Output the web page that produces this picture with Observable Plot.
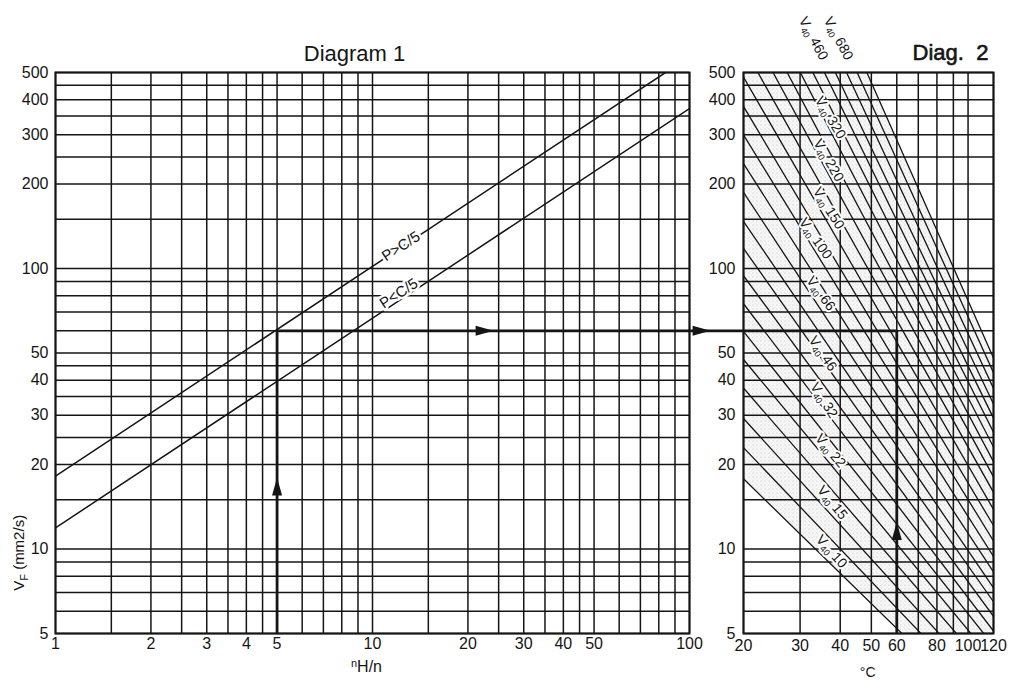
<!DOCTYPE html>
<html><head><meta charset="utf-8">
<script src="https://cdn.jsdelivr.net/npm/d3@7"></script>
<script src="https://cdn.jsdelivr.net/npm/@observablehq/plot@0.6"></script>
<style>
body{margin:0;background:#fff;}
#wrap{position:relative;width:1022px;height:683px;overflow:hidden;}
#wrap svg{position:absolute;left:0;top:0;}
</style></head><body><div id="wrap"></div>
<script>
// ---------- Diagram 1 data ----------
const d1GridX = [1,1.5,2,2.5,3,3.5,4,4.5,5,6,7,8,9,10,15,20,25,30,35,40,45,50,60,70,80,90,100];
const gridY = [5,6,7,8,9,10,15,20,25,30,35,40,45,50,60,70,80,90,100,150,200,250,300,350,400,450,500];
const d1TicksX = [1,2,3,4,5,10,20,30,40,50,100];
const ticksY = [5,10,20,30,40,50,100,200,300,400,500];
const loadNames = ["P>C/5","P<C/5"];
const loadX1 = [1,1];
const loadY1 = [18.2,11.9];
const loadX2 = [84,100];
const loadY2 = [500,372];
const loadLabelX = [12.3,12.1];
const loadLabelY = [120,81.5];
const exampleRatio = 5;      // nH/n
const exampleVisc = 60;      // mm2/s
const exampleTemp = 60;      // °C

// ---------- Diagram 2 data ----------
const d2GridX = [20,30,40,50,60,70,80,90,100,120];
const d2TicksX = [20,30,40,50,60,80,100,120];
// viscosity lines: value at 40 °C, and read values at 20 °C and 120 °C
const vgLineV40  = [8.2,10,12.2,15,18.2,22,26.5,32,38.4,46,56,68,82.5,100,122,150,182,220,265,320,384,460,560,680,820];
const vgLineV20  = [17.8,23.0,29.2,37.5,47.4,59.7,74.9,94.3,118,147.4,187,236.8,299.5,378.4,481.3,616.8,780,983,1235,1554,1944,2428,3081,3900,4903];
const vgLineV120 = [2.40,2.68,3.06,3.52,4.00,4.52,5.10,5.76,6.49,7.27,8.29,9.41,10.69,12.13,13.85,15.93,18.09,20.5,23.1,26.1,29.3,32.9,37.4,42.5,48.0];
// labels
const vgLabelText = ["10","15","22","32","46","66","100","150","220","320","460","680"];
const vgLabelT = [37.6,37.8,37.3,35.6,35.3,34.8,33.5,36.8,36.8,37.3,33.0,39.5];
const vgLabelV = [9.8,14.65,22.4,33.9,49.8,81.5,128,164,243,345,661,661];
const vgLabelAngle = [48,51,50,58,56,54,55,58,60,59,62,62];

const FONT = "'Liberation Sans', Arial, Helvetica, sans-serif";
const INK = "#151515";

const arrowUp = {draw(c){c.moveTo(0,0);c.lineTo(5,18);c.lineTo(-5,18);c.closePath();}};
const arrowRight = {draw(c){c.moveTo(0,0);c.lineTo(-18,5);c.lineTo(-18,-5);c.closePath();}};

const loadLines = loadNames.flatMap((n,i)=>[{n, x:loadX1[i], y:loadY1[i]},{n, x:loadX2[i], y:loadY2[i]}]);
const loadLabels = loadNames.map((n,i)=>({n, x:loadLabelX[i], y:loadLabelY[i]}));

const p1 = Plot.plot({
  width:1022, height:683, marginLeft:55, marginRight:333, marginTop:72, marginBottom:50,
  style:{background:"transparent", fontFamily:FONT, overflow:"visible"},
  x:{type:"log", domain:[1,100], axis:null},
  y:{type:"log", domain:[5,500], axis:null},
  marks:[
    Plot.ruleX(d1GridX, {x:d=>d, stroke:INK, strokeWidth:1.5}),
    Plot.ruleY(gridY, {y:d=>d, stroke:INK, strokeWidth:1.5}),
    Plot.line(loadLines, {x:"x", y:"y", z:"n", stroke:INK, strokeWidth:1.5, clip:true}),
    Plot.text(loadLabels, {x:"x", y:"y", text:"n", rotate:-33, fontSize:15, fill:INK, stroke:"white", strokeWidth:5, paintOrder:"stroke"}),
    Plot.ruleX([exampleRatio], {x:d=>d, y1:5, y2:exampleVisc, stroke:INK, strokeWidth:2.8}),
    Plot.ruleY([exampleVisc], {y:d=>d, x1:exampleRatio, x2:100, stroke:INK, strokeWidth:2.8}),
    Plot.dot([[exampleRatio,18]], {x:d=>d[0], y:d=>d[1], symbol:arrowUp, fill:INK, stroke:null}),
    Plot.dot([[24.1,exampleVisc]], {x:d=>d[0], y:d=>d[1], symbol:arrowRight, fill:INK, stroke:null}),
    Plot.frame({stroke:INK, strokeWidth:2}),
    Plot.text(d1TicksX, {x:d=>d, frameAnchor:"bottom", dy:15, text:d=>String(d), fontSize:16, fill:INK}),
    Plot.text(ticksY, {y:d=>d, frameAnchor:"left", dx:-7, textAnchor:"end", text:d=>String(d), fontSize:16, fill:INK}),
    Plot.text(["Diagram 1"], {frameAnchor:"top", dx:-18, dy:-27, fontSize:22, fill:INK}),
    Plot.text(["nH/n"], {x:[10], frameAnchor:"bottom", dy:38, dx:-6, fontSize:16, fill:INK}),
    Plot.text(["VF (mm2/s)"], {y:[7.1], frameAnchor:"left", dx:-36, rotate:-90, fontSize:15, fill:INK})
  ]
});

const vgLines = vgLineV40.flatMap((g,i)=>[{k:g, T:20, v:vgLineV20[i]},{k:g, T:120, v:vgLineV120[i]}]);
const last = vgLineV40.length-1;
const shade = [{T:20, lo:vgLineV20[0], hi:vgLineV20[last]},{T:120, lo:vgLineV120[0], hi:vgLineV120[last]}];
const vgLabels = vgLabelText.map((g,i)=>({t:"V40 "+g, T:vgLabelT[i], V:vgLabelV[i], a:vgLabelAngle[i]}));

const p2 = Plot.plot({
  width:1022, height:683, marginLeft:743, marginRight:29, marginTop:72, marginBottom:50,
  style:{background:"transparent", fontFamily:FONT, overflow:"visible"},
  x:{type:"log", domain:[20,120], axis:null},
  y:{type:"log", domain:[5,500], axis:null},
  marks:[
    Plot.areaY(shade, {x:"T", y1:"lo", y2:"hi", fill:"url(#stip)", clip:true}),
    Plot.ruleX(d2GridX, {x:d=>d, stroke:INK, strokeWidth:1.5}),
    Plot.ruleY(gridY, {y:d=>d, stroke:INK, strokeWidth:1.5}),
    Plot.line(vgLines, {x:"T", y:"v", z:"k", stroke:INK, strokeWidth:1.3, clip:true}),
    Plot.text(vgLabels, {x:"T", y:"V", text:"t", rotate:d=>d.a, fontSize:14, fill:INK, stroke:"white", strokeWidth:4, paintOrder:"stroke"}),
    Plot.ruleX([exampleTemp], {x:d=>d, y1:5, y2:exampleVisc, stroke:INK, strokeWidth:2.8}),
    Plot.ruleY([exampleVisc], {y:d=>d, x1:13.5, x2:exampleTemp, stroke:INK, strokeWidth:2.8}),
    Plot.dot([[15.8,exampleVisc]], {x:d=>d[0], y:d=>d[1], symbol:arrowRight, fill:INK, stroke:null}),
    Plot.dot([[exampleTemp,12.5]], {x:d=>d[0], y:d=>d[1], symbol:arrowUp, fill:INK, stroke:null}),
    Plot.frame({stroke:INK, strokeWidth:2}),
    Plot.text(d2TicksX, {x:d=>d, frameAnchor:"bottom", dy:17, text:d=>String(d), fontSize:16, fill:INK}),
    Plot.text(ticksY, {y:d=>d, frameAnchor:"left", dx:-8, textAnchor:"end", text:d=>String(d), fontSize:16, fill:INK}),
    Plot.text(["Diag.  2"], {frameAnchor:"top", dx:82, dy:-28, fontSize:22, fill:INK, stroke:INK, strokeWidth:0.6}),
    Plot.text(["\u00B0C"], {x:[48.7], frameAnchor:"bottom", dy:43, fontSize:14, fill:INK})
  ]
});

document.getElementById("wrap").append(p1, p2);

// stipple pattern
const defs = d3.select(p2).insert("defs", ":first-child");
const pat = defs.append("pattern").attr("id","stip").attr("width",4).attr("height",4).attr("patternUnits","userSpaceOnUse");
pat.append("rect").attr("width",4).attr("height",4).attr("fill","#f7f7f7");
pat.append("circle").attr("cx",1).attr("cy",1).attr("r",0.55).attr("fill","#bcbcbc");
pat.append("circle").attr("cx",3).attr("cy",3).attr("r",0.4).attr("fill","#cdcdcd");

// rich text: subscripts / superscripts
d3.select(p1).selectAll("text").filter(function(){return this.textContent==="VF (mm2/s)";}).each(function(){
  const t = d3.select(this); t.text("");
  t.append("tspan").text("V");
  t.append("tspan").attr("font-size", 11).attr("dy", 4).text("F");
  t.append("tspan").attr("dy", -4).text(" (mm2/s)");
});
d3.select(p1).selectAll("text").filter(function(){return this.textContent==="nH/n";}).each(function(){
  const t = d3.select(this); t.text("");
  t.append("tspan").attr("font-size", 11).attr("dy", -5).text("n");
  t.append("tspan").attr("dy", 5).text("H/n");
});
d3.select(p2).selectAll("text").filter(function(){return this.textContent.startsWith("V40 ");}).each(function(){
  const g = this.textContent.slice(4);
  const t = d3.select(this); t.text("");
  t.append("tspan").text("V");
  t.append("tspan").attr("font-size", 9).attr("dy", 3).text("40");
  t.append("tspan").attr("dy", -3).text(" " + g);
});
</script>
</body></html>
